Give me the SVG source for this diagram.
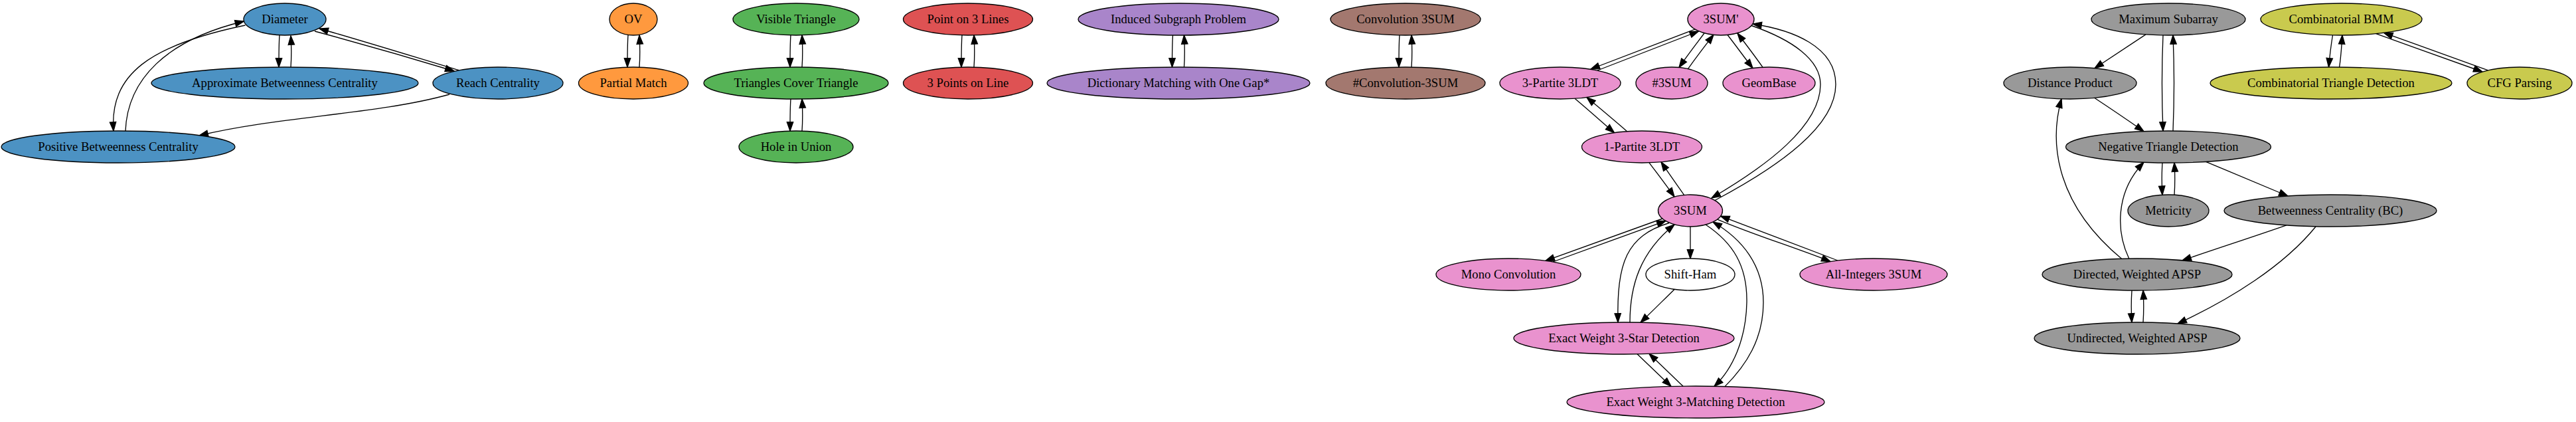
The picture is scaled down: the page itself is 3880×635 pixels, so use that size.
<svg xmlns="http://www.w3.org/2000/svg" width="3880" height="635" viewBox="0 0 3880 635">
<defs>
<style>
.node ellipse{stroke:#000;stroke-width:1.33}
.node text{font-family:"Liberation Serif","Times New Roman",serif;font-size:18.67px;text-anchor:middle;fill:#000}
.blue ellipse{fill:#4c92c3}
.orange ellipse{fill:#ff993e}
.green ellipse{fill:#56b356}
.red ellipse{fill:#de5253}
.purple ellipse{fill:#a985ca}
.brown ellipse{fill:#a3786f}
.pink ellipse{fill:#e992ce}
.gray ellipse{fill:#999999}
.olive ellipse{fill:#c9ca4e}
.white ellipse{fill:#ffffff}
#edges path{fill:none;stroke:#000;stroke-width:1.33;marker-end:url(#ah)}
</style>
<marker id="ah" viewBox="-1 -1 16 12" refX="13.3" refY="5" markerWidth="16" markerHeight="12" markerUnits="userSpaceOnUse" orient="auto">
<path d="M0,0.33 L13.3,5 L0,9.67 Z" fill="#000" stroke="#000" stroke-width="1.33" stroke-linejoin="miter"/>
</marker>
</defs>
<rect width="3880" height="635" fill="#fff"/>
<g id="edges">
<path d="M421,53 C420,67 420,85 420,101"/>
<path d="M438,101 C439,87 439,70 438,54"/>
<path d="M474,47 C545,66 615,86 684,107"/>
<path d="M692,106 C622,85 551,63 481,43"/>
<path d="M369.5,38 C225,68 165,112 171,197"/>
<path d="M189,197 C192,120 250,60 367.5,32"/>
<path d="M677,142 C570,172 420,175 300,204"/>
<path d="M946,53 C945,67 945,85 945,101"/>
<path d="M963,101 C964,87 964,70 963,53"/>
<path d="M1191,53 C1190,67 1190,85 1190,101"/>
<path d="M1208,101 C1209,87 1209,70 1208,53"/>
<path d="M1191,149 C1190,163 1190,181 1190,197"/>
<path d="M1208,197 C1209,183 1209,166 1208,149"/>
<path d="M1449,53 C1448,67 1448,85 1448,101"/>
<path d="M1467,101 C1468,87 1468,70 1467,53"/>
<path d="M1766.5,53 C1765.5,67 1765.5,85 1765.5,101"/>
<path d="M1783.5,101 C1784.5,87 1784.5,70 1783.5,53"/>
<path d="M2108,53 C2107,67 2107,85 2107,101"/>
<path d="M2126,101 C2127,87 2127,70 2126,53"/>
<path d="M2553,44 C2500,64 2448,84 2396,104"/>
<path d="M2406,106 C2457,86 2508,67 2558.5,47"/>
<path d="M2567,50 C2555,66 2541,84 2529,101.5"/>
<path d="M2542.5,103.6 C2555,86 2568,69 2581,52.4"/>
<path d="M2602,52.5 C2615,69 2627,86 2640,102.5"/>
<path d="M2655,101.2 C2643,84 2630,67 2617,50"/>
<path d="M2638,38.5 C2700,60 2742,90 2742,127 C2742,190 2660,250 2578,298"/>
<path d="M2583,301.5 C2680,250 2765,190 2765,127 C2765,70 2700,45 2640,36"/>
<path d="M2372,148.3 C2392,165 2412,183 2431.5,199.7"/>
<path d="M2450.7,197.7 C2430,180 2410,163 2390,146.6"/>
<path d="M2484,244.8 C2497,262 2510,279 2522,296"/>
<path d="M2536.6,293.5 C2525,277 2513,260 2502,243.7"/>
<path d="M2504,329 C2445,350 2386,371 2328,392.4"/>
<path d="M2339,394 C2396,373 2452,353 2509,332.4"/>
<path d="M2546,341 L2546,389"/>
<path d="M2522,435.4 C2505,452 2488,469 2471,485.3"/>
<path d="M2514,335.5 C2450,355 2435,395 2437,485"/>
<path d="M2455,485 C2455,430 2470,380 2522,338"/>
<path d="M2569,338 C2610,365 2632,400 2631,455 C2630,510 2610,555 2582,581.3"/>
<path d="M2598,581.6 C2630,550 2656,510 2656,455 C2656,400 2625,360 2580,334"/>
<path d="M2586.7,330.1 C2643,354 2700,371 2757,393.5"/>
<path d="M2768,392 C2710,370 2650,347 2591.6,325.2"/>
<path d="M2466,532.8 C2483,549 2500,565 2517,581.4"/>
<path d="M2535,581.1 C2518,565 2501,548 2484,532.4"/>
<path d="M3232,51.9 C3206,69 3180,86 3155,102.7"/>
<path d="M3258,53 C3256,100 3256,150 3258,197"/>
<path d="M3273,197 C3275,150 3275,100 3273,53"/>
<path d="M3154.6,147.3 C3180,164 3205,181 3229,197.7"/>
<path d="M3513.5,53 C3511,68 3509,85 3507.5,101"/>
<path d="M3523.6,101 C3526,86 3527,69 3528,53"/>
<path d="M3578.7,50.7 C3632,70 3686,89 3739,108"/>
<path d="M3747.7,105.8 C3695,87 3643,68 3590.6,49.4"/>
<path d="M3257,245 C3256,260 3256,277 3257,293.3"/>
<path d="M3275,293.3 C3276,278 3276,261 3275,245"/>
<path d="M3322.5,243.3 C3364,261 3405,278 3446,295"/>
<path d="M3195.5,389.3 C3100,310 3085,220 3105,148.8"/>
<path d="M3206.7,389 C3188,350 3185,290 3229,244.3"/>
<path d="M3444,338.9 C3392,357 3339,374 3287,391.9"/>
<path d="M3488,341 C3440,400 3360,450 3280,487"/>
<path d="M3211,437 C3210,452 3210,469 3211,485"/>
<path d="M3228,485 C3229,470 3229,453 3228,437"/>
</g>
<g id="n-diameter" class="node blue"><ellipse cx="429" cy="29" rx="62" ry="24"/><text x="429" y="35">Diameter</text></g>
<g id="n-approx-bc" class="node blue"><ellipse cx="429" cy="125" rx="201" ry="24"/><text x="429" y="131">Approximate Betweenness Centrality</text></g>
<g id="n-reach" class="node blue"><ellipse cx="750" cy="125" rx="98" ry="24"/><text x="750" y="131">Reach Centrality</text></g>
<g id="n-positive-bc" class="node blue"><ellipse cx="178" cy="221" rx="176" ry="24"/><text x="178" y="227">Positive Betweenness Centrality</text></g>
<g id="n-ov" class="node orange"><ellipse cx="954" cy="29" rx="36" ry="24"/><text x="954" y="35">OV</text></g>
<g id="n-partial-match" class="node orange"><ellipse cx="954" cy="125" rx="82.5" ry="24"/><text x="954" y="131">Partial Match</text></g>
<g id="n-visible-triangle" class="node green"><ellipse cx="1199" cy="29" rx="95" ry="24"/><text x="1199" y="35">Visible Triangle</text></g>
<g id="n-tct" class="node green"><ellipse cx="1199" cy="125" rx="139" ry="24"/><text x="1199" y="131">Triangles Cover Triangle</text></g>
<g id="n-hole" class="node green"><ellipse cx="1199" cy="221" rx="86" ry="24"/><text x="1199" y="227">Hole in Union</text></g>
<g id="n-point3lines" class="node red"><ellipse cx="1458" cy="29" rx="97.5" ry="24"/><text x="1458" y="35">Point on 3 Lines</text></g>
<g id="n-3points" class="node red"><ellipse cx="1458" cy="125" rx="97.5" ry="24"/><text x="1458" y="131">3 Points on Line</text></g>
<g id="n-induced" class="node purple"><ellipse cx="1775" cy="29" rx="151" ry="24"/><text x="1775" y="35">Induced Subgraph Problem</text></g>
<g id="n-dictionary" class="node purple"><ellipse cx="1775" cy="125" rx="198" ry="24"/><text x="1775" y="131">Dictionary Matching with One Gap*</text></g>
<g id="n-conv3sum" class="node brown"><ellipse cx="2117" cy="29" rx="113" ry="24"/><text x="2117" y="35">Convolution 3SUM</text></g>
<g id="n-hconv3sum" class="node brown"><ellipse cx="2117" cy="125" rx="120" ry="24"/><text x="2117" y="131">#Convolution-3SUM</text></g>
<g id="n-3sumprime" class="node pink"><ellipse cx="2592" cy="29" rx="50" ry="24"/><text x="2592" y="35">3SUM'</text></g>
<g id="n-3partite" class="node pink"><ellipse cx="2350" cy="125" rx="91" ry="24"/><text x="2350" y="131">3-Partite 3LDT</text></g>
<g id="n-h3sum" class="node pink"><ellipse cx="2518" cy="125" rx="54" ry="24"/><text x="2518" y="131">#3SUM</text></g>
<g id="n-geombase" class="node pink"><ellipse cx="2664.5" cy="125" rx="69.5" ry="24"/><text x="2664.5" y="131">GeomBase</text></g>
<g id="n-1partite" class="node pink"><ellipse cx="2473" cy="221" rx="90.5" ry="24"/><text x="2473" y="227">1-Partite 3LDT</text></g>
<g id="n-3sum" class="node pink"><ellipse cx="2546" cy="317" rx="48.5" ry="24"/><text x="2546" y="323">3SUM</text></g>
<g id="n-mono" class="node pink"><ellipse cx="2272" cy="413" rx="109" ry="24"/><text x="2272" y="419">Mono Convolution</text></g>
<g id="n-shiftham" class="node white"><ellipse cx="2546" cy="413" rx="67" ry="24"/><text x="2546" y="419">Shift-Ham</text></g>
<g id="n-allint" class="node pink"><ellipse cx="2822" cy="413" rx="111" ry="24"/><text x="2822" y="419">All-Integers 3SUM</text></g>
<g id="n-3star" class="node pink"><ellipse cx="2446" cy="509" rx="166" ry="24"/><text x="2446" y="515">Exact Weight 3-Star Detection</text></g>
<g id="n-3matching" class="node pink"><ellipse cx="2554" cy="605" rx="194" ry="24"/><text x="2554" y="611">Exact Weight 3-Matching Detection</text></g>
<g id="n-maxsub" class="node gray"><ellipse cx="3266" cy="29" rx="116" ry="24"/><text x="3266" y="35">Maximum Subarray</text></g>
<g id="n-distprod" class="node gray"><ellipse cx="3118" cy="125" rx="100" ry="24"/><text x="3118" y="131">Distance Product</text></g>
<g id="n-negtri" class="node gray"><ellipse cx="3266" cy="221" rx="154.5" ry="24"/><text x="3266" y="227">Negative Triangle Detection</text></g>
<g id="n-metricity" class="node gray"><ellipse cx="3266" cy="317" rx="61" ry="24"/><text x="3266" y="323">Metricity</text></g>
<g id="n-bc" class="node gray"><ellipse cx="3510" cy="317" rx="160" ry="24"/><text x="3510" y="323">Betweenness Centrality (BC)</text></g>
<g id="n-dirapsp" class="node gray"><ellipse cx="3219" cy="413" rx="143" ry="24"/><text x="3219" y="419">Directed, Weighted APSP</text></g>
<g id="n-undirapsp" class="node gray"><ellipse cx="3219" cy="509" rx="155" ry="24"/><text x="3219" y="515">Undirected, Weighted APSP</text></g>
<g id="n-bmm" class="node olive"><ellipse cx="3526.5" cy="29" rx="121.5" ry="24"/><text x="3526.5" y="35">Combinatorial BMM</text></g>
<g id="n-ctd" class="node olive"><ellipse cx="3511" cy="125" rx="182" ry="24"/><text x="3511" y="131">Combinatorial Triangle Detection</text></g>
<g id="n-cfg" class="node olive"><ellipse cx="3795" cy="125" rx="79" ry="24"/><text x="3795" y="131">CFG Parsing</text></g>
</svg>
